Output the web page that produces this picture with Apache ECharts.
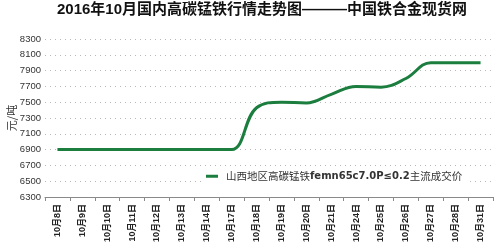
<!DOCTYPE html>
<html>
<head>
<meta charset="utf-8">
<script src="https://cdn.jsdelivr.net/npm/echarts@6/dist/echarts.min.js"></script>
<style>
html,body{margin:0;padding:0;background:#fff;}
#c{width:500px;height:249px;}
</style>
</head>
<body>
<div id="c"></div>
<script>
var titleText = '2016年10月国内高碳锰铁行情走势图———中国铁合金现货网';
var seriesName = '山西地区高碳锰铁femn65c7.0P≤0.2主流成交价';
var categories = ['10月8日','10月9日','10月10日','10月11日','10月12日','10月13日','10月14日','10月17日','10月18日','10月19日','10月20日','10月21日','10月24日','10月25日','10月26日','10月27日','10月28日','10月31日'];
var prices = [6900,6900,6900,6900,6900,6900,6900,6900,7430,7500,7490,7600,7700,7690,7800,8000,8000,8000];
var yMin = 6300, yMax = 8300, yStep = 200;
var yAxisName = '元/吨';

var chart = echarts.init(document.getElementById('c'), null, {renderer:'canvas'});
chart.setOption({
  animation:false,
  backgroundColor:'#ffffff',
  title:{
    text:titleText,
    left:57,
    top:2,
    padding:0,
    textStyle:{fontSize:15,fontWeight:'bold',color:'#111',fontFamily:'Liberation Sans, Noto Sans CJK SC, sans-serif'}
  },
  grid:{left:45,right:7,top:39,bottom:52,containLabel:false,outerBoundsMode:'none'},
  legend:{
    left:204,
    top:170,
    padding:[1,4,1,2],
    backgroundColor:'#ffffff',
    icon:'rect',
    itemWidth:12,
    itemHeight:3,
    itemStyle:{color:'#1b7d3e'},
    data:[seriesName],
    formatter:function(){return '{a|山西地区高碳锰铁}{b|femn65c7.0P≤0.2}{a|主流成交价}';},
    textStyle:{
      padding:[0,0,0,3],
      rich:{
        a:{fontSize:10.5,color:'#333',fontFamily:'Noto Sans CJK SC, sans-serif'},
        b:{fontSize:10,fontWeight:'bold',color:'#333',fontFamily:'DejaVu Sans, sans-serif'}
      }
    }
  },
  xAxis:{
    type:'category',
    data:categories,
    boundaryGap:true,
    axisLine:{show:true,lineStyle:{color:'#8a8a8a',width:1}},
    axisTick:{show:true,length:4,alignWithLabel:false,lineStyle:{color:'#8a8a8a'}},
    axisLabel:{rotate:90,interval:0,margin:7,fontSize:9,fontWeight:'bold',color:'#222',fontFamily:'Liberation Sans, Noto Sans CJK SC, sans-serif'},
    splitLine:{show:false}
  },
  yAxis:{
    type:'value',
    min:yMin,max:yMax,interval:yStep,
    name:yAxisName,
    nameLocation:'middle',
    nameGap:28,
    nameMoveOverlap:false,
    nameTextStyle:{fontSize:11,color:'#333',fontFamily:'Noto Sans CJK SC, sans-serif'},
    axisLine:{show:false},
    axisTick:{show:false},
    axisLabel:{fontSize:9.5,color:'#333',margin:4,fontFamily:'Liberation Sans, sans-serif',formatter:function(v){return String(v);}},
    splitLine:{show:true,lineStyle:{type:[1,4],color:'#b8b8b8',width:1}}
  },
  series:[{
    name:seriesName,
    type:'line',
    data:prices,
    smooth:0.4,
    showSymbol:false,
    symbol:'none',
    lineStyle:{color:'#1b7d3e',width:3},
    itemStyle:{color:'#1b7d3e'}
  }]
});
</script>
</body>
</html>
